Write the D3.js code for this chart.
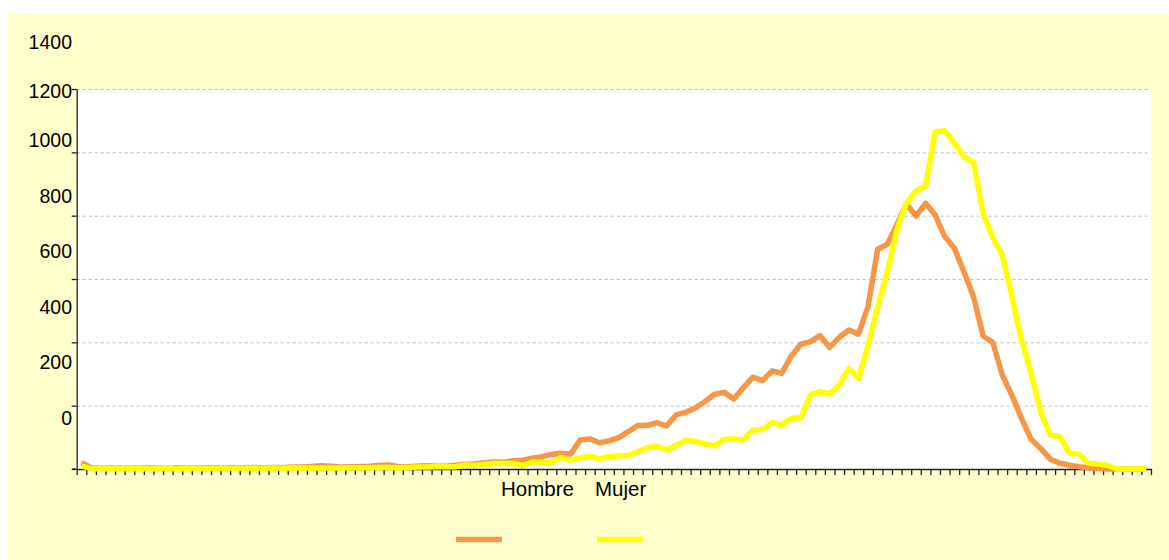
<!DOCTYPE html>
<html>
<head>
<meta charset="utf-8">
<script src="https://cdn.jsdelivr.net/npm/d3@7"></script>
<style>
  body { margin: 0; background: #fff; }
  svg { display: block; }
</style>
</head>
<body>
<div class="chart"></div>
<script>
// ages 0..111, one band each
const ages = d3.range(112);

const hombre = [20,4,2,2,2,3,2,3,2,2, 3,2,3,3,4,3,4,4,5,4, 5,5,6,6,8,10,9,6,7,8, 9,11,13,8,7,9,10,9,
                9,12,15,16,20,22,21,26,28,34, 39,46,50,47,92,95,83,89,99,118, 137,138,146,136,171,179,193,
                213,236,242,221,257,290,279,310,302,357, 394,402,421,384,416,439,426,513,694,709,
                771,837,799,839,802,734,697,623,544,420,400,297,233,
                160,94,65,31,18,12,7,4,2,0,0,0,0,0];

const mujer = [10,1,1,1,1,2,1,1,1,2, 1,1,2,1,2,2,2,2,2,2, 3,2,3,3,3,3,3,3,4,4, 4,5,5,4,5,6,6,7,
               7,7,13,11,15,17,17,18,11,22, 22,19,37,28,35,40,32,39,42,43, 54,67,72,60,75,91,87,
               79,73,94,95,92,123,125,146,139,160, 162,234,244,237,265,318,286,390,512,620,
               755,839,878,894,1065,1068,1029,986,968,807,731,676,544,
               407,302,181,107,102,50,47,18,16,11,0,0,1,0];

const gridValues = [0, 200, 400, 600, 800, 1000, 1200];
const tickLabels = [0, 200, 400, 600, 800, 1000, 1200, 1400];

const series = [
    { name: "Hombre", values: hombre, color: "#F79646" },
    { name: "Mujer", values: mujer, color: "#FFFF00" }
];

const svg = d3.select(".chart")
              .append("svg")
              .attr("width", 1169)
              .attr("height", 560)
              .attr("viewBox", "0 0 1169 560");

// outer background
svg.append("rect")
   .attr("x", 8)
   .attr("y", 14)
   .attr("width", 1161)
   .attr("height", 546)
   .attr("fill", "#FFFFCC");

const xScale = d3.scaleBand()
                 .domain(ages)
                 .range([76.7, 1151])
                 .padding(0);

const yScale = d3.scaleLinear()
                 .domain([0, 1200])
                 .range([469, 89]);

// the tick labels sit off the gridlines in the original
const labelScale = d3.scaleLinear()
                     .domain([0, 1000, 1400])
                     .range([418, 140, 42]);

// plot area
svg.append("rect")
   .attr("x", xScale.range()[0])
   .attr("y", yScale(1200))
   .attr("width", xScale.range()[1] - xScale.range()[0])
   .attr("height", yScale(0) - yScale(1200))
   .attr("fill", "#fff");

svg.append("g")
   .selectAll("line")
   .data(gridValues.slice(1))
   .join("line")
   .attr("x1", xScale.range()[0])
   .attr("x2", xScale.range()[1])
   .attr("y1", d => yScale(d) + 0.5)
   .attr("y2", d => yScale(d) + 0.5)
   .attr("stroke", "#BDBDBD")
   .attr("stroke-dasharray", "3,3");

// y axis
const yAxis = svg.append("g")
                 .attr("transform", `translate(${xScale.range()[0]},0)`)
                 .call(d3.axisLeft(yScale)
                         .tickValues(gridValues)
                         .tickSize(5)
                         .tickSizeOuter(0)
                         .tickFormat(""));
yAxis.selectAll("path, line").attr("stroke", "#222").attr("stroke-width", 1.3);

svg.append("g")
   .selectAll("text")
   .data(tickLabels)
   .join("text")
   .text(d => d)
   .attr("x", 72)
   .attr("y", d => labelScale(d))
   .attr("dy", "0.36em")
   .attr("text-anchor", "end")
   .style("font-family", "'Liberation Sans', Arial, sans-serif")
   .style("font-size", "19.5px")
   .attr("fill", "#000");

// x axis with a tick on every band edge
const edgeScale = d3.scaleLinear()
                    .domain([0, ages.length])
                    .range(xScale.range());

const xAxis = svg.append("g")
                 .attr("transform", `translate(0,${yScale(0)})`)
                 .call(d3.axisBottom(edgeScale)
                         .tickValues(d3.range(ages.length + 1))
                         .tickSize(6)
                         .tickSizeOuter(0)
                         .tickFormat(""));
xAxis.selectAll("path, line").attr("stroke", "#222").attr("stroke-width", 1.3);

svg.append("line")
   .attr("x1", 72)
   .attr("x2", xScale.range()[0])
   .attr("y1", yScale(0))
   .attr("y2", yScale(0))
   .attr("stroke", "#222")
   .attr("stroke-width", 1.3);

const line = d3.line()
               .x((d, i) => xScale(ages[i]) + xScale.bandwidth() / 2)
               .y(d => yScale(d));

svg.append("g")
   .selectAll("path")
   .data(series)
   .join("path")
   .attr("d", d => line(d.values))
   .attr("fill", "none")
   .attr("stroke", d => d.color)
   .attr("stroke-width", 5.5)
   .attr("stroke-linejoin", "round");

// legend
const legendText = [501, 595];
const legendLine = [456, 597];

svg.append("g")
   .selectAll("text")
   .data(series)
   .join("text")
   .text(d => d.name)
   .attr("x", (d, i) => legendText[i])
   .attr("y", 496)
   .style("font-family", "'Liberation Sans', Arial, sans-serif")
   .style("font-size", "20.5px")
   .attr("fill", "#000");

svg.append("g")
   .selectAll("line")
   .data(series)
   .join("line")
   .attr("x1", (d, i) => legendLine[i])
   .attr("x2", (d, i) => legendLine[i] + 46)
   .attr("y1", 539.5)
   .attr("y2", 539.5)
   .attr("stroke", d => d.color)
   .attr("stroke-width", 5.5);
</script>
</body>
</html>
